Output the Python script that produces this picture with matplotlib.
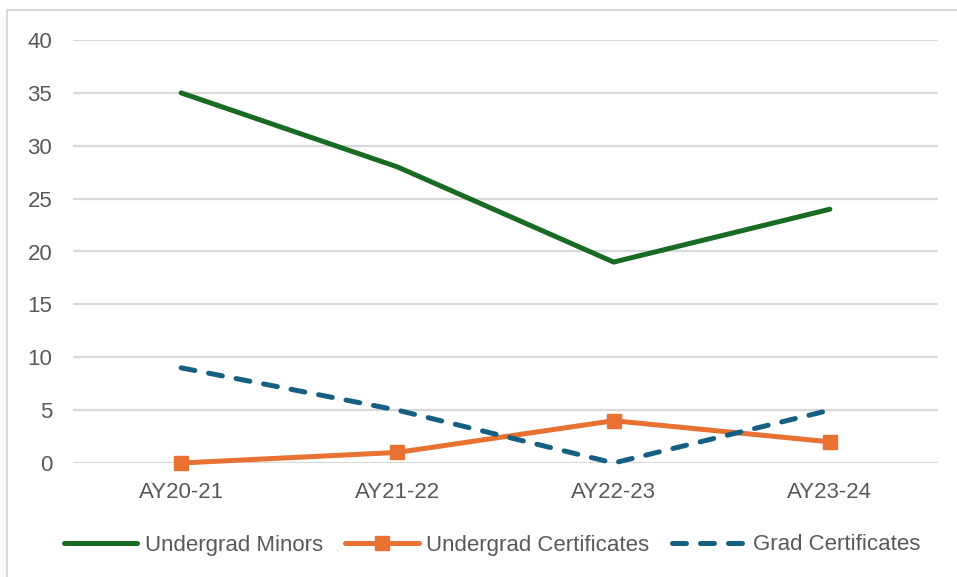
import matplotlib
matplotlib.use("Agg")
import matplotlib.pyplot as plt
from matplotlib.lines import Line2D

categories = ["AY20-21", "AY21-22", "AY22-23", "AY23-24"]
undergrad_minors = [35, 28, 19, 24]
undergrad_certificates = [0, 1, 4, 2]
grad_certificates = [9, 5, 0, 5]
y_ticks = [0, 5, 10, 15, 20, 25, 30, 35, 40]

plt.rcParams['font.family'] = ['Liberation Sans', 'DejaVu Sans']

W, H = 957, 577
fig = plt.figure(figsize=(W / 100, H / 100), dpi=100)
ax = fig.add_axes([73 / W, 114 / H, (938 - 73) / W, (463 - 40) / H])

x = list(range(len(categories)))
ax.plot(x, undergrad_minors, color="#196B24", lw=3.6, solid_capstyle="round",
        solid_joinstyle="round", label="Undergrad Minors", zorder=3, clip_on=False)
ax.plot(x, undergrad_certificates, color="#E97132", lw=3.6, marker="s", markersize=10,
        solid_capstyle="round", solid_joinstyle="round", label="Undergrad Certificates",
        zorder=3, clip_on=False)
ax.plot(x, grad_certificates, color="#156082", lw=3.6, linestyle=(0, (2.8, 2.8)),
        dash_capstyle="round", label="Grad Certificates", zorder=3, clip_on=False)

ax.set_xlim(-0.5, 3.5)
ax.set_ylim(0, 40)
ax.set_yticks(y_ticks)
ax.set_xticks(x)
ax.set_xticklabels(categories)
ax.tick_params(length=0, labelsize=16, colors="#595959")
ax.tick_params(axis="y", pad=15)
ax.tick_params(axis="x", pad=14)
ax.grid(axis="y", color="#d9d9d9", lw=1.6)
ax.set_axisbelow(True)
for s in ax.spines.values():
    s.set_visible(False)

leg = fig.legend(loc="center", bbox_to_anchor=(492 / W, 1 - 545 / H), ncol=3, frameon=False,
                 fontsize=16, handlelength=3.3, columnspacing=1.0, handletextpad=0.35,
                 labelcolor="#595959")

# chart frame
fig.add_artist(Line2D([7 / W, 7 / W], [0, 1 - 10 / H], transform=fig.transFigure,
                      color="#d9d9d9", lw=1.5))
fig.add_artist(Line2D([7 / W, 1], [1 - 10 / H, 1 - 10 / H], transform=fig.transFigure,
                      color="#d9d9d9", lw=1.5))

fig.savefig("out.png", dpi=100)
